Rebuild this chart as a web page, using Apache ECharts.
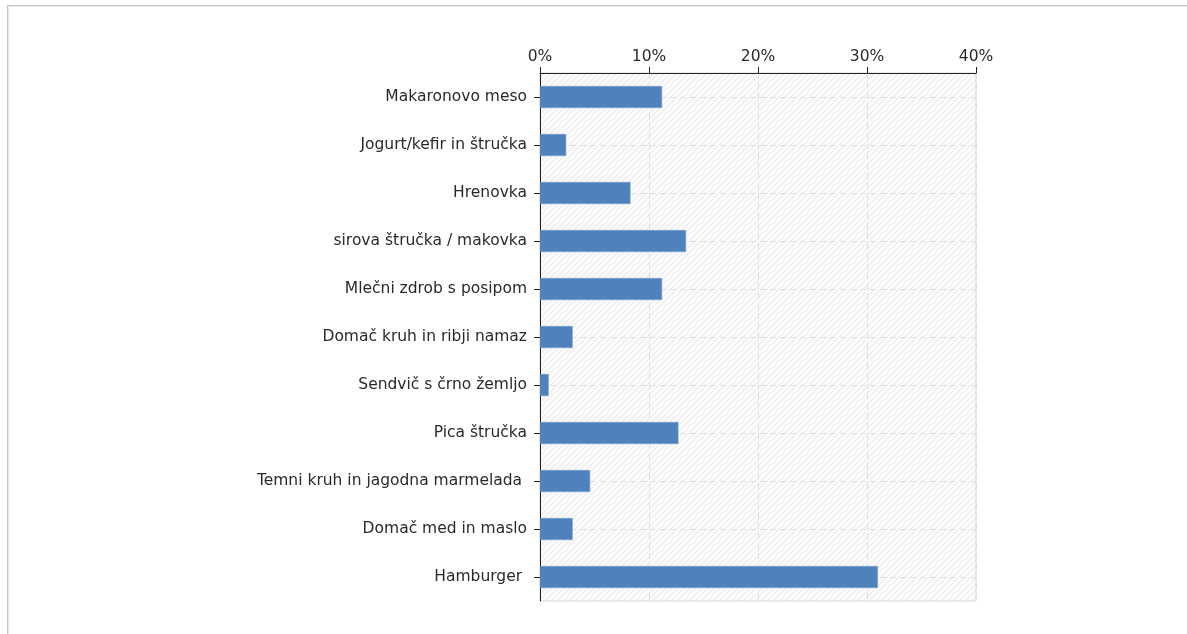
<!DOCTYPE html>
<html>
<head>
<meta charset="utf-8">
<script src="https://cdn.jsdelivr.net/npm/echarts@6/dist/echarts.min.js"></script>
<style>
html,body{margin:0;padding:0;background:#fff;}
#frame{position:absolute;left:7px;top:5px;width:1300px;height:700px;border:1px solid #c8c8c8;box-shadow:inset 1px 1px 0 #e6e6e6;}
#chart{position:absolute;left:0;top:0;width:1187px;height:634px;}
</style>
</head>
<body>
<div id="frame"></div>
<div id="chart"></div>
<script>
const categories = [
  'Makaronovo meso',
  'Jogurt/kefir in štručka',
  'Hrenovka',
  'sirova štručka / makovka',
  'Mlečni zdrob s posipom',
  'Domač kruh in ribji namaz',
  'Sendvič s črno žemljo',
  'Pica štručka',
  'Temni kruh in jagodna marmelada ',
  'Domač med in maslo',
  'Hamburger '
];
const values = [11.2, 2.4, 8.3, 13.4, 11.2, 3.0, 0.8, 12.7, 4.6, 3.0, 31.0];
const xTicks = [0, 10, 20, 30, 40];

// hatch pattern for the plot background
const pc = document.createElement('canvas');
pc.width = 6; pc.height = 6;
const g = pc.getContext('2d');
g.fillStyle = '#fbfbfb';
g.fillRect(0, 0, 6, 6);
g.strokeStyle = '#e7e7e7';
g.lineWidth = 1;
g.beginPath();
g.moveTo(0, 6); g.lineTo(6, 0);
g.moveTo(-3, 3); g.lineTo(3, -3);
g.moveTo(3, 9); g.lineTo(9, 3);
g.stroke();

const chart = echarts.init(document.getElementById('chart'), null, {renderer: 'canvas'});
const font = 'DejaVu Sans, Verdana, sans-serif';
const gridLine = {color: '#dedede', type: [6, 4], width: 1};
chart.setOption({
  animation: false,
  grid: {
    left: 540, right: 211, top: 73, bottom: 33,
    show: true,
    backgroundColor: {image: pc, repeat: 'repeat'},
    borderColor: '#d8d8d8', borderWidth: 1
  },
  xAxis: {
    type: 'value', position: 'top',
    min: xTicks[0], max: xTicks[xTicks.length - 1], interval: xTicks[1] - xTicks[0],
    axisLine: {show: true, lineStyle: {color: '#222', width: 1}},
    axisTick: {show: true, length: 6, lineStyle: {color: '#222'}},
    axisLabel: {formatter: '{value}%', color: '#2a2a2a', fontFamily: font, fontSize: 15.5, margin: 8},
    splitLine: {show: true, lineStyle: gridLine}
  },
  yAxis: {
    type: 'category', inverse: true, data: categories,
    axisLine: {show: true, lineStyle: {color: '#222', width: 1}},
    axisTick: {show: true, alignWithLabel: true, length: 6, lineStyle: {color: '#222'}},
    axisLabel: {color: '#2a2a2a', fontFamily: font, fontSize: 15.5, margin: 13},
    splitLine: {show: false}
  },
  series: [{
    type: 'line', data: [], z: 1, silent: true, showSymbol: false,
    markLine: {
      z: 1, silent: true, symbol: 'none', label: {show: false},
      lineStyle: gridLine,
      emphasis: {disabled: true},
      data: categories.map(c => ({yAxis: c}))
    }
  }, {
    type: 'bar', data: values, barWidth: 22, z: 3,
    itemStyle: {color: '#4F81BD', borderColor: '#7fa3cf', borderWidth: 0.5}
  }]
});
</script>
</body>
</html>
